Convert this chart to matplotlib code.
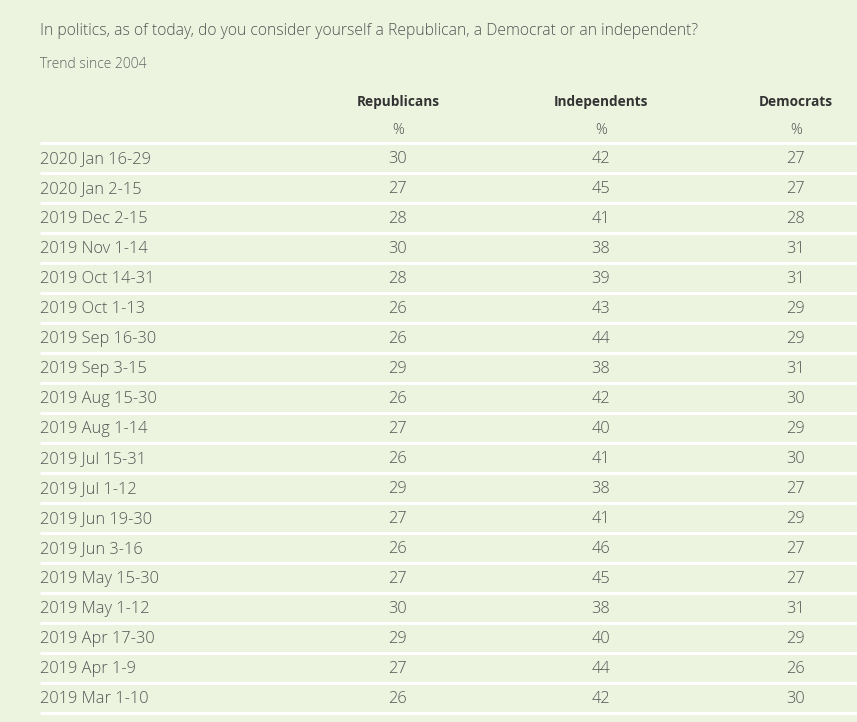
import matplotlib.pyplot as plt

plt.rcParams['font.family'] = ['Open Sans', 'DejaVu Sans']

title = "In politics, as of today, do you consider yourself a Republican, a Democrat or an independent?"
subtitle = "Trend since 2004"
columns = ["Republicans", "Independents", "Democrats"]
dates = ["2020 Jan 16-29", "2020 Jan 2-15", "2019 Dec 2-15", "2019 Nov 1-14",
         "2019 Oct 14-31", "2019 Oct 1-13", "2019 Sep 16-30", "2019 Sep 3-15",
         "2019 Aug 15-30", "2019 Aug 1-14", "2019 Jul 15-31", "2019 Jul 1-12",
         "2019 Jun 19-30", "2019 Jun 3-16", "2019 May 15-30", "2019 May 1-12",
         "2019 Apr 17-30", "2019 Apr 1-9", "2019 Mar 1-10"]
republicans = [30, 27, 28, 30, 28, 26, 26, 29, 26, 27, 26, 29, 27, 26, 27, 30, 29, 27, 26]
independents = [42, 45, 41, 38, 39, 43, 44, 38, 42, 40, 41, 38, 41, 46, 45, 38, 40, 44, 42]
democrats = [27, 27, 28, 31, 31, 29, 29, 31, 30, 29, 30, 27, 29, 27, 27, 31, 29, 26, 30]

bg = '#ecf3de'
text_col = '#555555'

fig = plt.figure(figsize=(8.57, 7.22), dpi=100, facecolor=bg)
ax = fig.add_axes([0, 0, 1, 1])
ax.set_facecolor(bg)
ax.set_xlim(0, 857)
ax.set_ylim(722, 0)
ax.axis('off')

ax.text(40, 31, title, fontsize=11.3, color=text_col, va='center', ha='left', fontweight='light')
ax.text(40, 65, subtitle, fontsize=10, color='#666666', va='center', ha='left', fontweight='light')

col_x = [398, 601, 796]
for x, name in zip(col_x, columns):
    ax.text(x, 102, name, fontsize=9.8, fontweight='bold', color='#333333', ha='center', va='center')
    ax.text(x, 130, '%', fontsize=10.5, color=text_col, ha='center', va='center', fontweight='light')

row_h = 30
first_line = 143
for i in range(len(dates) + 1):
    y = first_line + i * row_h
    ax.plot([40, 857], [y, y], color='white', lw=2.2, solid_capstyle='butt')

for i, d in enumerate(dates):
    y = first_line + row_h / 2 + i * row_h + 1
    ax.text(40, y, d, fontsize=11.8, color=text_col, ha='left', va='center', fontweight='light')
    for x, vals in zip(col_x, [republicans, independents, democrats]):
        ax.text(x, y, str(vals[i]), fontsize=11.8, color=text_col, ha='center', va='center',
                fontweight='light')

fig.savefig('out.png', dpi=100, facecolor=bg)
